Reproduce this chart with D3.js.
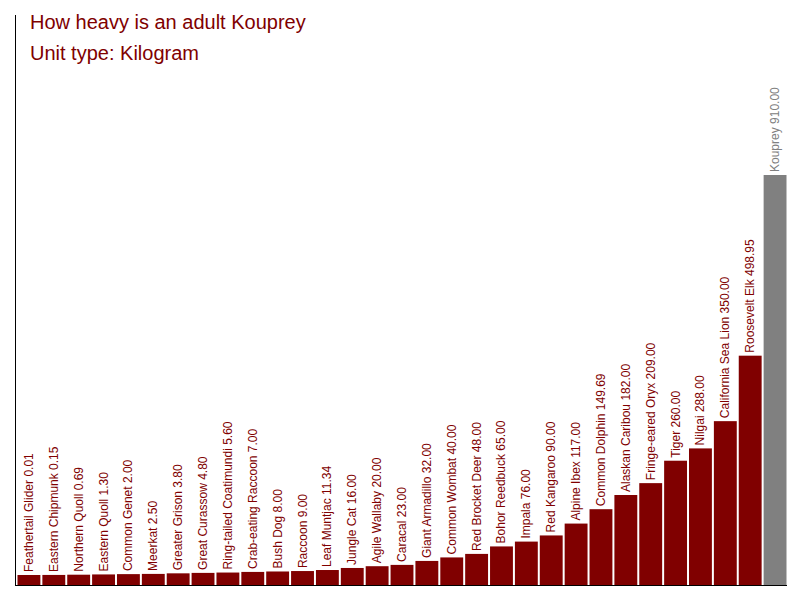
<!DOCTYPE html>
<html>
<head>
<meta charset="utf-8">
<script src="https://cdn.jsdelivr.net/npm/d3@7"></script>
<style>
  body { margin: 0; background: #fff; }
  text { font-family: "Liberation Sans", Arial, sans-serif; }
</style>
</head>
<body>
<div class="chart"></div>
<script>
var names = ["Feathertail Glider", "Eastern Chipmunk", "Northern Quoll", "Eastern Quoll", "Common Genet",
  "Meerkat", "Greater Grison", "Great Curassow", "Ring-tailed Coatimundi", "Crab-eating Raccoon",
  "Bush Dog", "Raccoon", "Leaf Muntjac", "Jungle Cat", "Agile Wallaby", "Caracal", "Giant Armadillo",
  "Common Wombat", "Red Brocket Deer", "Bohor Reedbuck", "Impala", "Red Kangaroo", "Alpine Ibex",
  "Common Dolphin", "Alaskan Caribou", "Fringe-eared Oryx", "Tiger", "Nilgai", "California Sea Lion",
  "Roosevelt Elk", "Kouprey"];
var weights = [0.01, 0.15, 0.69, 1.30, 2.00, 2.50, 3.80, 4.80, 5.60, 7.00, 8.00, 9.00, 11.34, 16.00,
  20.00, 23.00, 32.00, 40.00, 48.00, 65.00, 76.00, 90.00, 117.00, 149.69, 182.00, 209.00, 260.00,
  288.00, 350.00, 498.95, 910.00];
var highlight = "Kouprey";

var svgWidth = 800, svgHeight = 600;
var baseY = 585;

var svg = d3.select(".chart").append("svg")
  .attr("width", svgWidth)
  .attr("height", svgHeight);

var data = names.map((n, i) => ({ name: n, value: weights[i] }));

var x = d3.scaleBand()
  .domain(names)
  .range([17, 787])
  .paddingInner(0.08)
  .paddingOuter(0.02);

// bars start with a small minimum height above the baseline
var y = d3.scaleLinear()
  .domain([0, 910])
  .range([575, 175]);

svg.selectAll("rect.bar")
  .data(data)
  .enter().append("rect")
  .attr("class", "bar")
  .attr("x", d => x(d.name))
  .attr("width", x.bandwidth())
  .attr("y", d => y(d.value))
  .attr("height", d => baseY - y(d.value))
  .attr("fill", d => d.name === highlight ? "#808080" : "#800000");

svg.selectAll("text.lbl")
  .data(data)
  .enter().append("text")
  .attr("class", "lbl")
  .attr("transform", d => `translate(${x(d.name) + x.bandwidth() / 2 + 4}, ${y(d.value) - 3}) rotate(-90)`)
  .attr("font-size", 12)
  .attr("fill", d => d.name === highlight ? "#808080" : "#800000")
  .text(d => d.name + " " + d.value.toFixed(2));

// axes lines
svg.append("line").attr("x1", 15.5).attr("x2", 15.5).attr("y1", 15).attr("y2", baseY)
  .attr("stroke", "#000");
svg.append("line").attr("x1", 15).attr("x2", 787).attr("y1", baseY + 0.5).attr("y2", baseY + 0.5)
  .attr("stroke", "#000");

svg.append("text").attr("x", 30).attr("y", 29).attr("font-size", 20).attr("fill", "#800000")
  .text("How heavy is an adult Kouprey");
svg.append("text").attr("x", 30).attr("y", 60).attr("font-size", 20).attr("fill", "#800000")
  .text("Unit type: Kilogram");
</script>
</body>
</html>
